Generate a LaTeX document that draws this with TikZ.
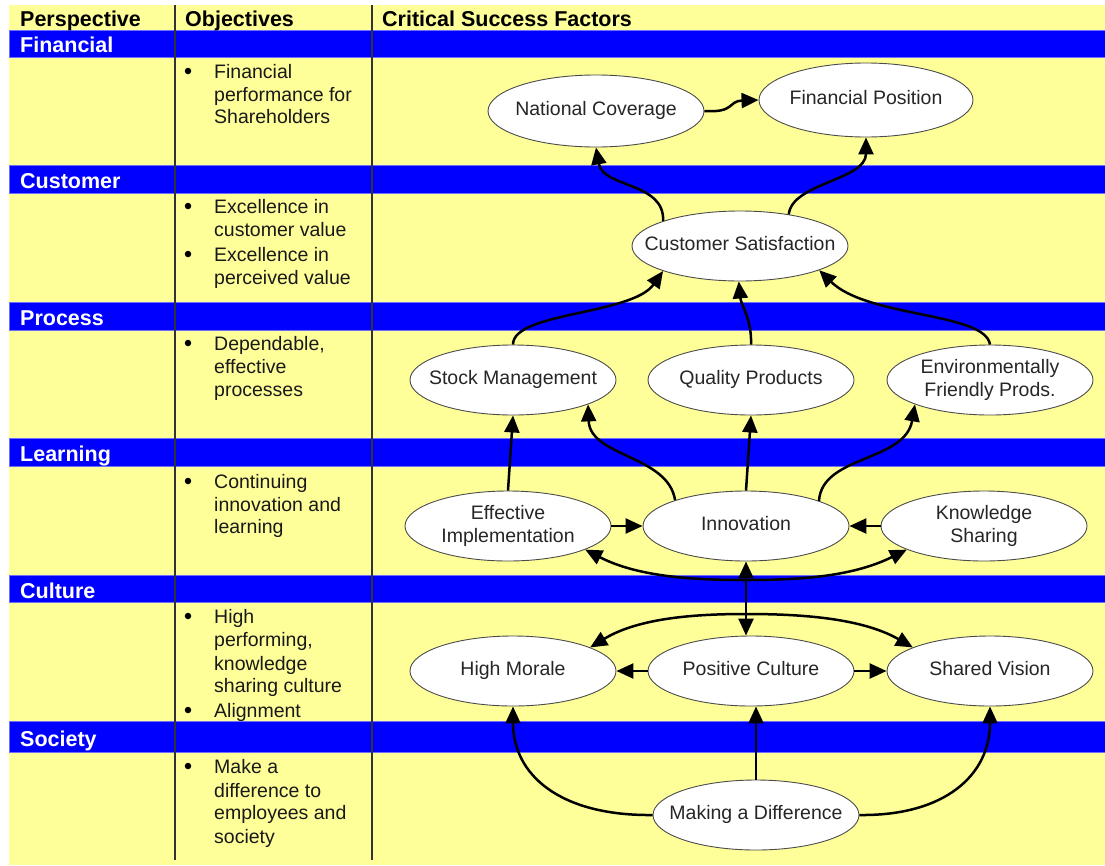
\documentclass[tikz,border=0pt]{standalone}
\usepackage{fontspec}
\setmainfont{Liberation Sans}
\usetikzlibrary{arrows.meta,shapes.geometric}
\definecolor{bg}{RGB}{255,255,153}
\definecolor{bandblue}{RGB}{0,0,255}
\definecolor{bandedge}{RGB}{110,110,255}
\newcommand{\eltext}[1]{\makebox[0pt]{\raisebox{-2.5pt}{\begin{tabular}{@{}c@{}}#1\end{tabular}}}}
\begin{document}
\begin{tikzpicture}[x=1pt,y=-1pt,
  band/.style={fill=bandblue, draw=bandedge, line width=0.8pt},
  bandlabel/.style={anchor=base west, text=white, font=\fontsize{21.5}{24}\selectfont\bfseries, inner sep=0pt},
  head/.style={anchor=base west, font=\fontsize{21.5}{24}\selectfont\bfseries, inner sep=0pt},
  obj/.style={anchor=base west, font=\fontsize{19.5}{23}\selectfont, inner sep=0pt, text=black!90},
  bul/.style={circle, fill=black, inner sep=0pt, minimum size=6.5pt},
  csf/.style={ellipse, draw=black!70, line width=0.9pt, fill=white, minimum width=206pt, minimum height=70pt, inner sep=0pt, font=\fontsize{19.5}{23}\selectfont, text=black!85},
  arr/.style={line width=2.5pt, -{Triangle[length=17pt,width=15pt]}},
  darr/.style={line width=2.5pt, {Triangle[length=17pt,width=15pt]}-{Triangle[length=17pt,width=15pt]}},
  divider/.style={line width=1.5pt, draw=black!80}
]
\useasboundingbox (0,0) rectangle (1105,865);
\fill[white] (0,0) rectangle (1105,865);
\fill[bg] (9,5) rectangle (1105,865);

% bands
\draw[band] (9,30) rectangle (1105,57);
\draw[band] (9,165) rectangle (1105,193);
\draw[band] (9,302) rectangle (1105,330);
\draw[band] (9,438) rectangle (1105,466);
\draw[band] (9,575) rectangle (1105,602);
\draw[band] (9,721) rectangle (1105,752);

% dividers
\draw[divider] (175,5) -- (175,860);
\draw[divider] (372,5) -- (372,860);

% header
\node[head] (h1) at (20,26) {Perspective};
\node[head] (h2) at (185,26) {Objectives};
\node[head] (h3) at (382,26) {Critical Success Factors};

% band labels
\node[bandlabel] (b1) at (20,52) {Financial};
\node[bandlabel] (b2) at (20,188) {Customer};
\node[bandlabel] (b3) at (20,325) {Process};
\node[bandlabel] (b4) at (20,461) {Learning};
\node[bandlabel] (b5) at (20,598) {Culture};
\node[bandlabel] (b6) at (20,746) {Society};

% objectives text
\foreach \t/\y [count=\i] in {
  Financial/78, performance for/101, Shareholders/123,
  Excellence in/213, customer value/236, Excellence in/261, perceived value/284,
  {Dependable,}/350, effective/373, processes/396,
  Continuing/488, innovation and/511, learning/533,
  High/623, {performing,}/646, knowledge/670, sharing culture/692, Alignment/717,
  Make a/773, difference to/797, employees and/819, society/843}
  {\node[obj] (o\i) at (214,\y) {\t};}
\foreach \y [count=\i] in {78,213,261,350,488,623,717,773}
  {\node[bul] (u\i) at (188,\y-7) {};}

% CSF nodes
\node[csf, minimum width=216pt, minimum height=72pt] (nc) at (596,111) {\eltext{National Coverage}};
\node[csf, minimum width=214pt, minimum height=74pt] (fp) at (866,100) {\eltext{Financial Position}};
\node[csf, minimum width=216pt] (cs) at (740,246) {\eltext{Customer Satisfaction}};
\node[csf] (sm) at (513,380) {\eltext{Stock Management}};
\node[csf] (qp) at (751,380) {\eltext{Quality Products}};
\node[csf] (ef) at (990,380) {\eltext{Environmentally\\Friendly Prods.}};
\node[csf] (ei) at (508,526) {\eltext{Effective\\Implementation}};
\node[csf] (inn) at (746,526) {\eltext{Innovation}};
\node[csf] (ks) at (984,526) {\eltext{Knowledge\\Sharing}};
\node[csf] (hm) at (513,671) {\eltext{High Morale}};
\node[csf] (pc) at (751,671) {\eltext{Positive Culture}};
\node[csf] (sv) at (990,671) {\eltext{Shared Vision}};
\node[csf] (mad) at (756,815) {\eltext{Making a Difference}};

% connectors
\draw[arr] (nc.east) .. controls (735,113) and (728,101) .. (fp.west);
\draw[arr] (cs.162) .. controls (665,182) and (603,188) .. (nc.270);
\draw[arr] (cs.33) .. controls (792,183) and (866,180) .. (fp.270);
\draw[arr] (sm.north) .. controls (513,312) and (632,315) .. (cs.198);
\draw[arr] (qp.north) .. controls (752,320) and (741,305) .. (cs.268);
\draw[arr] (ef.north) .. controls (985,312) and (868,318) .. (cs.-17);
\draw[arr] (ei.north) -- (sm.south);
\draw[arr] (inn.160) .. controls (668,455) and (590,457) .. (sm.-18);
\draw[arr] (inn.north) -- (qp.south);
\draw[arr] (inn.19) .. controls (822,455) and (905,462) .. (ef.198);
\draw[arr] (ei.east) -- (inn.west);
\draw[arr] (ks.west) -- (inn.east);
\draw[darr] (ei.-17) .. controls (640,578) and (700,580) .. (746,580) .. controls (792,580) and (850,578) .. (ks.197);
\draw[darr] (inn.south) -- (inn.south |- pc.north);
\draw[darr] (hm.17) .. controls (640,617) and (700,614) .. (746,614) .. controls (795,614) and (860,617) .. (sv.163);
\draw[arr] (pc.west) -- (hm.east);
\draw[arr] (pc.east) -- (sv.west);
\draw[arr] (mad.west) .. controls (560,816) and (513,775) .. (hm.south);
\draw[arr] (mad.north) -- (mad.north |- pc.south);
\draw[arr] (mad.east) .. controls (945,816) and (990,775) .. (sv.south);
\end{tikzpicture}
\end{document}
